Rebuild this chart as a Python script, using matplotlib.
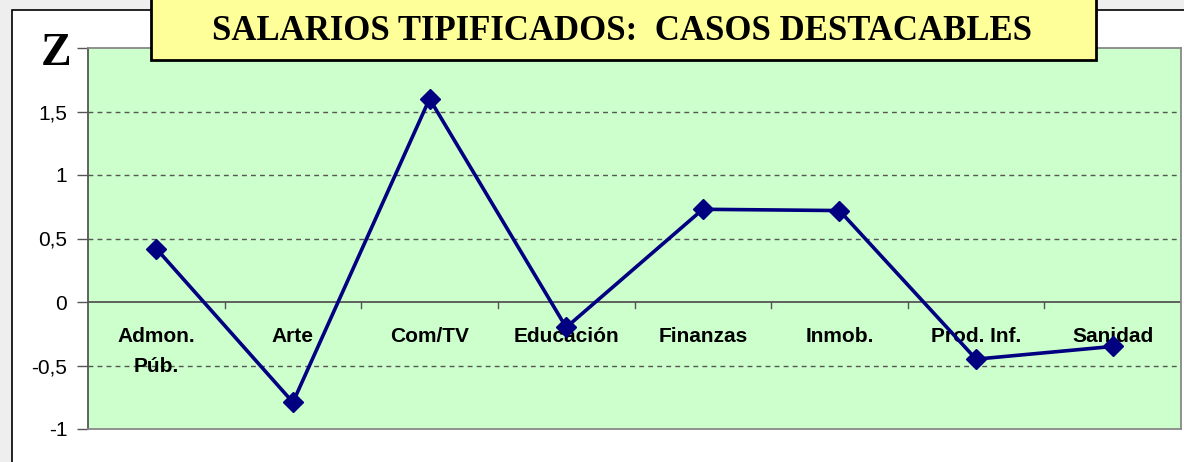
import matplotlib
matplotlib.use("Agg")
import matplotlib.pyplot as plt
from matplotlib.patches import Rectangle
import numpy as np

categories = ["Admon.\nPúb.", "Arte", "Com/TV", "Educación", "Finanzas", "Inmob.", "Prod. Inf.", "Sanidad"]
z_values = [0.42, -0.79, 1.60, -0.20, 0.73, 0.72, -0.45, -0.35]
ytick_values = [-1, -0.5, 0, 0.5, 1, 1.5]
ytick_labels = ["-1", "-0,5", "0", "0,5", "1", "1,5"]
title = "SALARIOS TIPIFICADOS:  CASOS DESTACABLES"

W, H = 1184, 462
fig = plt.figure(figsize=(W / 100, H / 100), dpi=100)
fig.patch.set_facecolor("#eeeeee")

# white chart frame
fig.patches.append(Rectangle((11.5 / W, -0.1), 1.2, 1 - 9.5 / H + 0.1, transform=fig.transFigure,
                             facecolor="white", edgecolor="black", linewidth=1.2, zorder=-5))

ax = fig.add_axes([88 / W, 1 - 429 / H, (1181 - 88) / W, (429 - 48) / H])
ax.set_zorder(1)
ax.set_facecolor("#ccffcc")
n = len(categories)
x = np.arange(n)
ax.set_xlim(-0.5, n - 0.5)
ax.set_ylim(-1, 2)

# grid
for v in ytick_values:
    if v not in (0, -1):
        ax.axhline(v, color="#555555", lw=1.0, ls=(0, (3.5, 3)), zorder=1)
ax.axhline(0, color="#555555", lw=1.3, zorder=1)

ax.plot(x, z_values, color="#000080", lw=2.6, marker="D", markersize=10,
        markerfacecolor="#000080", markeredgecolor="#000080", zorder=3)

for sp in ["top", "right", "bottom"]:
    ax.spines[sp].set_color("#888888")
    ax.spines[sp].set_linewidth(1.3)
ax.spines["left"].set_color("#555555")
ax.spines["left"].set_linewidth(1.3)

ax.set_yticks(ytick_values + [2])
ax.set_yticklabels(ytick_labels + [""], fontsize=15, family="Liberation Sans")
ax.tick_params(axis="y", direction="out", length=8, width=1, color="#555555", pad=7)
ax.set_xticks([])

# category boundary ticks at zero line
for b in np.arange(0.5, n - 0.5, 1):
    ax.plot([b, b], [0, -0.05], color="#555555", lw=1, zorder=2, clip_on=False)

for xi, lab in zip(x, categories):
    ax.text(xi, -0.2, lab, ha="center", va="top", fontsize=15, fontweight="bold",
            family="Liberation Sans", linespacing=1.7, zorder=2)

fig.text(56 / W, 1 - 54 / H, "Z", fontsize=33, fontweight="bold", family="Liberation Serif",
         ha="center", va="center")

# title box
fig.patches.append(Rectangle((151 / W, 1 - 60 / H), (1096 - 151) / W, 0.2, transform=fig.transFigure,
                             facecolor="#ffff99", edgecolor="black", linewidth=2, zorder=5))
fig.text(622 / W, 1 - 32 / H, title, fontsize=25, fontweight="bold", family="Liberation Serif",
         ha="center", va="center", zorder=6)

fig.savefig("out.png", dpi=100, facecolor=fig.get_facecolor())
